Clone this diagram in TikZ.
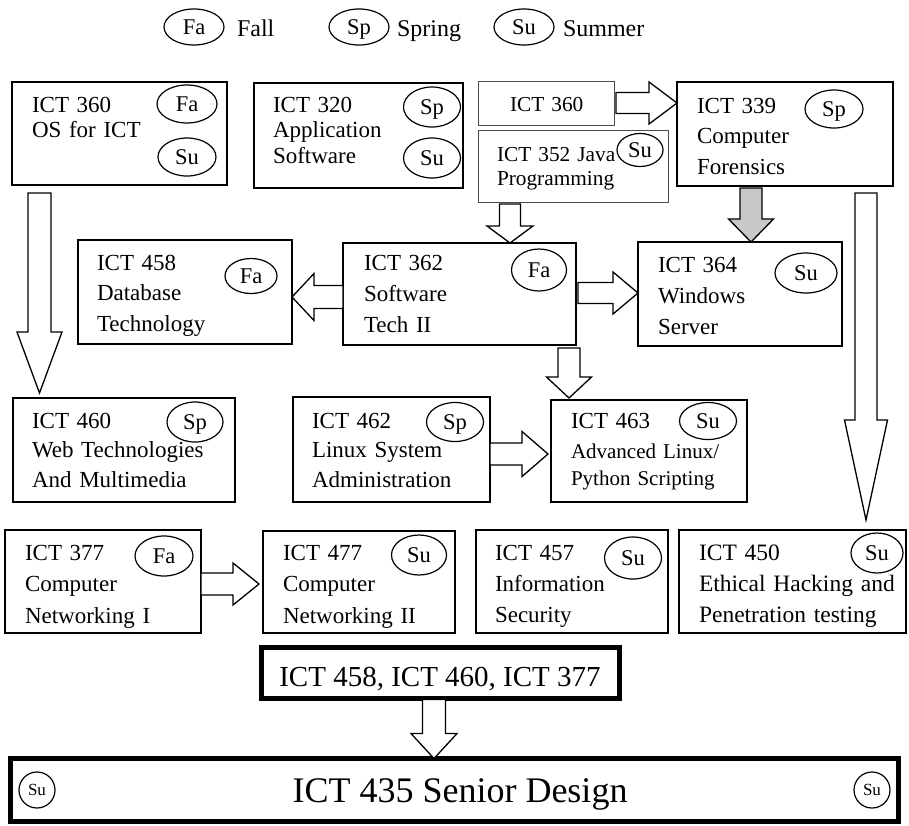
\documentclass[tikz,border=0pt]{standalone}
\usepackage{fontspec}
\setmainfont{Liberation Serif}
\usetikzlibrary{shapes.geometric,calc}
\tikzset{
  box/.style={draw, line width=1.3pt, anchor=north west, inner sep=0pt, outer sep=0pt},
  thinbox/.style={box, line width=0.9pt, draw=black!70},
  thickbox/.style={box, line width=2.2pt},
  heavybox/.style={box, line width=5pt},
  ell/.style={draw, ellipse, line width=1.2pt, inner sep=0pt, font=\fontsize{22.5}{22.5}\selectfont, text height=15pt, text depth=0pt},
  smallell/.style={ell, font=\fontsize{17}{17}\selectfont, text height=11.3pt},
  txt/.style={anchor=base west, inner sep=0pt, outer sep=0pt, align=left, text width=230pt},
  barrow/.style={draw, line width=1.3pt, fill=white, line join=miter},
  grayarrow/.style={fill={rgb,255:red,200;green,200;blue,200}}
}
\newcommand\boxnode[6]{%
  \node[#6, minimum width={#4pt-#2pt}, minimum height={#5pt-#3pt}] (#1) at (#2,#3) {};}
\newcommand\blockarrow[6][]{%
  \coordinate (ba-s) at (#2);
  \coordinate (ba-t) at (#3);
  \coordinate (ba-h) at ($(ba-t)!#6!(ba-s)$);
  \draw[barrow,#1] ($(ba-s)!#4!90:(ba-t)$) -- ($(ba-h)!#4!90:(ba-t)$) -- ($(ba-h)!#5!90:(ba-t)$) -- (ba-t) -- ($(ba-h)!#5!-90:(ba-t)$) -- ($(ba-h)!#4!-90:(ba-t)$) -- ($(ba-s)!#4!-90:(ba-t)$) -- cycle;}
\begin{document}
\begin{tikzpicture}[x=1pt,y=-1pt]
\useasboundingbox (0,0) rectangle (909,825);
% legend
\node[ell, minimum width=60pt, minimum height=36pt] (lg-fa) at (194,27) {Fa};
\node[txt, font=\fontsize{24}{24}\selectfont] (lg-fall) at (237,36) {Fall};
\node[ell, minimum width=60pt, minimum height=36pt] (lg-sp) at (359,27) {Sp};
\node[txt, font=\fontsize{24}{24}\selectfont] (lg-spring) at (397,36) {Spring};
\node[ell, minimum width=60pt, minimum height=36pt] (lg-su) at (524,27) {Su};
\node[txt, font=\fontsize{24}{24}\selectfont] (lg-summer) at (563,36) {Summer};
% boxes
\boxnode{b360}{12}{82}{227}{185}{box}
\boxnode{b320}{254}{83}{463}{188}{box}
\boxnode{b360s}{478}{81}{614}{125}{thinbox}
\boxnode{b352}{478}{130}{668}{202}{thinbox}
\boxnode{b339}{677}{82}{893}{186}{thickbox}
\boxnode{b458}{78}{240}{292}{344}{box}
\boxnode{b362}{343}{243}{576}{345}{box}
\boxnode{b364}{638}{242}{842}{346}{thickbox}
\boxnode{b460}{13}{398}{235}{502}{box}
\boxnode{b462}{293}{397}{490}{502}{box}
\boxnode{b463}{551}{400}{747}{502}{box}
\boxnode{b377}{5}{530}{201}{633}{box}
\boxnode{b477}{263}{531}{455}{633}{box}
\boxnode{b457}{476}{530}{668}{633}{box}
\boxnode{b450}{679}{530}{906}{633}{box}
\boxnode{bprq}{261}{647.5}{619.5}{698.5}{heavybox}
\boxnode{b435}{10.5}{758.5}{898.5}{821.5}{heavybox}
% texts
\node[txt, font=\fontsize{23}{25}\selectfont] (t360) at (32,112) {ICT 360\\OS for ICT};
\node[txt, font=\fontsize{23}{25.5}\selectfont] (t320) at (273,112) {ICT 320\\Application\\Software};
\node[txt, font=\fontsize{21.3}{24}\selectfont] (t360s) at (510,111) {ICT 360};
\node[txt, font=\fontsize{21.3}{24}\selectfont] (t352) at (497,161) {ICT 352 Java\\Programming};
\node[txt, font=\fontsize{23}{30.5}\selectfont] (t339) at (697,113) {ICT 339\\Computer\\Forensics};
\node[txt, font=\fontsize{23}{30.5}\selectfont] (t458) at (97,270) {ICT 458\\Database\\Technology};
\node[txt, font=\fontsize{23}{31}\selectfont] (t362) at (364,270) {ICT 362\\Software\\Tech II};
\node[txt, font=\fontsize{23}{31}\selectfont] (t364) at (658,272) {ICT 364\\Windows\\Server};
\node[txt, font=\fontsize{23}{29.5}\selectfont] (t460) at (32,428) {ICT 460\\Web Technologies\\And Multimedia};
\node[txt, font=\fontsize{23}{29.5}\selectfont] (t462) at (312,428) {ICT 462\\Linux System\\Administration};
\node[txt, font=\fontsize{23}{29.5}\selectfont] (t463) at (571,428) {ICT 463};
\node[txt, font=\fontsize{21}{27}\selectfont] (t463b) at (571,458) {Advanced Linux/\\Python Scripting};
\node[txt, font=\fontsize{23}{31.5}\selectfont] (t377) at (25,560) {ICT 377\\Computer\\Networking I};
\node[txt, font=\fontsize{23}{31.5}\selectfont] (t477) at (283,560) {ICT 477\\Computer\\Networking II};
\node[txt, font=\fontsize{23}{31}\selectfont] (t457) at (495,560) {ICT 457\\Information\\Security};
\node[txt, font=\fontsize{23.5}{31}\selectfont] (t450) at (699,560) {ICT 450\\Ethical Hacking and\\Penetration testing};
\node[anchor=base, inner sep=0pt, font=\fontsize{29}{29}\selectfont] (tprq) at (440,686) {ICT 458, ICT 460, ICT 377};
\node[anchor=base, inner sep=0pt, font=\fontsize{36}{36}\selectfont] (t435) at (460,802) {ICT 435 Senior Design};
% ellipses
\node[ell, minimum width=60pt, minimum height=38pt] (e360fa) at (187,104) {Fa};
\node[ell, minimum width=58pt, minimum height=38pt] (e360su) at (187,157) {Su};
\node[ell, minimum width=57pt, minimum height=40pt] (e320sp) at (432,107) {Sp};
\node[ell, minimum width=57pt, minimum height=40pt] (e320su) at (432,158) {Su};
\node[ell, minimum width=46pt, minimum height=33pt] (e352su) at (640,150) {Su};
\node[ell, minimum width=58pt, minimum height=38pt] (e339sp) at (834,109) {Sp};
\node[ell, minimum width=52pt, minimum height=35pt] (e458fa) at (251,276) {Fa};
\node[ell, minimum width=55pt, minimum height=42pt] (e362fa) at (539,270) {Fa};
\node[ell, minimum width=62pt, minimum height=40pt] (e364su) at (806,273) {Su};
\node[ell, minimum width=56pt, minimum height=40pt] (e460sp) at (195,422) {Sp};
\node[ell, minimum width=57pt, minimum height=39pt] (e462sp) at (455,422) {Sp};
\node[ell, minimum width=57pt, minimum height=37pt] (e463su) at (708,421) {Su};
\node[ell, minimum width=58pt, minimum height=40pt] (e377fa) at (164,556) {Fa};
\node[ell, minimum width=55pt, minimum height=40pt] (e477su) at (419,555) {Su};
\node[ell, minimum width=57pt, minimum height=42pt] (e457su) at (633,558) {Su};
\node[ell, minimum width=52pt, minimum height=40pt] (e450su) at (877,553) {Su};
\node[smallell, minimum width=36pt, minimum height=36pt] (e435a) at (37,790) {Su};
\node[smallell, minimum width=36pt, minimum height=36pt] (e435b) at (872,790) {Su};
% block arrows
\coordinate (a1s) at ($(b360s.east)+(2,0)$);
\blockarrow{a1s}{a1s -| b339.west}{10.5pt}{21pt}{28pt}
\coordinate (a2s) at ($(b352.south west)+(32,2)$);
\blockarrow{a2s}{a2s |- b362.north}{10.5pt}{23pt}{17pt}
\coordinate (a3s) at ($(b339.south west)+(74,2)$);
\blockarrow[grayarrow]{a3s}{a3s |- b364.north}{11pt}{22.5pt}{23pt}
\coordinate (a4s) at ($(b362.west)+(0,3)$);
\blockarrow{a4s}{a4s -| b458.east}{11.5pt}{23.5pt}{22pt}
\coordinate (a5s) at ($(b362.east)+(2,-1)$);
\blockarrow{a5s}{a5s -| b364.west}{10.5pt}{21pt}{25pt}
\coordinate (a6s) at ($(b362.south west)+(226,3)$);
\blockarrow{a6s}{$(a6s |- b463.north)+(0,-2)$}{11pt}{22.5pt}{21pt}
\coordinate (a7s) at ($(b462.east)+(0,4.5)$);
\blockarrow{a7s}{$(a7s -| b463.west)+(-3,0)$}{11pt}{22.5pt}{26pt}
\coordinate (a8s) at ($(b377.east)+(0,2.5)$);
\blockarrow{a8s}{$(a8s -| b477.west)+(-4,0)$}{11pt}{21pt}{26pt}
\coordinate (a9s) at ($(b360.south west)+(27.5,8)$);
\blockarrow{a9s}{$(a9s |- b460.north)+(0,-5)$}{11.5pt}{22.5pt}{61pt}
\coordinate (a10s) at ($(b339.south west)+(189,7)$);
\blockarrow{a10s}{$(a10s |- b450.north)+(0,-10)$}{11pt}{21.5pt}{100pt}
\coordinate (a11s) at ($(bprq.south west)+(173,1)$);
\blockarrow{a11s}{a11s |- b435.north}{11.5pt}{23pt}{25pt}
\end{tikzpicture}
\end{document}
